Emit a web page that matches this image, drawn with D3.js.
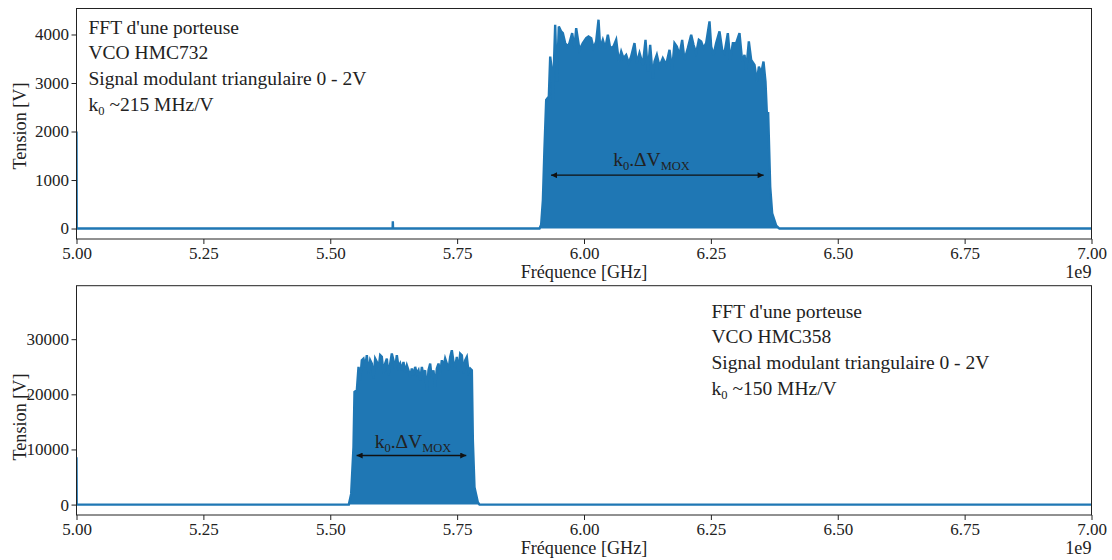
<!DOCTYPE html>
<html>
  <head>
    <meta charset="utf-8">
    <title>FFT d'une porteuse</title>
    <script src="https://d3js.org/d3.v7.min.js"></script>
    <style>
      body { margin: 0; background: #fff; }
      svg text { font-family: "Liberation Serif", "DejaVu Serif", serif; fill: #222; }
      .axis path, .axis line { stroke: #222; }
      .axis text { font-size: 17px; }
      .label { font-size: 18.2px; }
      .note { font-size: 19.5px; }
    </style>
  </head>
  <body>
    <svg id="chart" width="1112" height="560"></svg>
    <script>
      // tick values
      const xTicks = [5.00, 5.25, 5.50, 5.75, 6.00, 6.25, 6.50, 6.75, 7.00];
      const yTicksTop = [0, 1000, 2000, 3000, 4000];
      const yTicksBot = [0, 10000, 20000, 30000];
      const yLimTop = [-216, 4536];
      const yLimBot = [-1890, 39700];

      // HMC732 spectrum (GHz, V)
      const freqTop = [5.0000, 5.0004, 5.6229, 5.6233, 5.6237, 5.9123, 5.9156, 5.9190, 5.9220, 5.9255,
        5.9307, 5.9334, 5.9366, 5.9386, 5.9432, 5.9465, 5.9504, 5.9550, 5.9583, 5.9629,
        5.9682, 5.9714, 5.9767, 5.9813, 5.9846, 5.9911, 5.9977, 6.0043, 6.0089, 6.0142,
        6.0187, 6.0240, 6.0286, 6.0319, 6.0371, 6.0418, 6.0470, 6.0516, 6.0581, 6.0634,
        6.0686, 6.0733, 6.0778, 6.0831, 6.0883, 6.0929, 6.0995, 6.1041, 6.1094, 6.1160,
        6.1212, 6.1258, 6.1304, 6.1357, 6.1389, 6.1435, 6.1488, 6.1553, 6.1619, 6.1685,
        6.1737, 6.1783, 6.1829, 6.1882, 6.1934, 6.1980, 6.2046, 6.2112, 6.2158, 6.2210,
        6.2263, 6.2309, 6.2355, 6.2407, 6.2473, 6.2506, 6.2552, 6.2604, 6.2670, 6.2723,
        6.2768, 6.2834, 6.2880, 6.2933, 6.2998, 6.3064, 6.3117, 6.3163, 6.3196, 6.3248,
        6.3294, 6.3360, 6.3406, 6.3446, 6.3492, 6.3537, 6.3576, 6.3603, 6.3629, 6.3669,
        6.3708, 6.3787, 6.3850, 7.0000];
      const voltTop = [2000, 0, 0, 150, 0, 0, 80, 585, 1618, 2651,
        2720, 3546, 3271, 2651, 4200, 3029, 4166, 4063, 4029, 3822,
        3753, 3822, 4029, 3719, 4132, 3684, 3822, 3925, 3959, 3925,
        3719, 3856, 4304, 3719, 3890, 3719, 3994, 3719, 3753, 3890,
        3443, 3650, 3511, 3580, 3409, 3546, 3822, 3409, 3616, 3374,
        3890, 3236, 3787, 3097, 3443, 3580, 3339, 3511, 3374, 3684,
        3271, 3822, 3753, 3580, 3890, 3477, 3719, 3994, 3787, 3616,
        3890, 3856, 3719, 3822, 4269, 3753, 3580, 3822, 4063, 3684,
        3616, 4029, 3477, 3822, 3822, 4029, 3443, 3580, 3271, 3856,
        3477, 3374, 3029, 3339, 3202, 3443, 3029, 2376, 2376, 860,
        310, 60, 0, 0];

      // HMC358 spectrum (GHz, V)
      const freqBot = [5.0000, 5.0004, 5.5366, 5.5412, 5.5458, 5.5478, 5.5524, 5.5557, 5.5590, 5.5622,
        5.5655, 5.5688, 5.5721, 5.5754, 5.5787, 5.5819, 5.5852, 5.5885, 5.5918, 5.5951,
        5.5984, 5.6016, 5.6049, 5.6082, 5.6115, 5.6148, 5.6181, 5.6213, 5.6246, 5.6279,
        5.6312, 5.6345, 5.6378, 5.6410, 5.6443, 5.6476, 5.6509, 5.6542, 5.6575, 5.6607,
        5.6640, 5.6673, 5.6706, 5.6739, 5.6772, 5.6805, 5.6837, 5.6870, 5.6903, 5.6936,
        5.6969, 5.7002, 5.7034, 5.7067, 5.7100, 5.7133, 5.7166, 5.7199, 5.7232, 5.7264,
        5.7297, 5.7330, 5.7363, 5.7396, 5.7429, 5.7461, 5.7494, 5.7527, 5.7560, 5.7593,
        5.7626, 5.7658, 5.7691, 5.7724, 5.7757, 5.7790, 5.7810, 5.7842, 5.7908, 5.7941,
        7.0000];
      const voltBot = [8600, 0, 0, 1939, 10424, 20424, 20727, 24970, 22545, 26182,
        26485, 24970, 27091, 23758, 26182, 25576, 22848, 26485, 25879, 24667,
        27091, 26788, 23758, 25576, 26485, 23455, 25576, 27394, 26182, 24667,
        27091, 24970, 25576, 24364, 25879, 24061, 25273, 24364, 23152, 24667,
        23455, 24970, 23758, 24364, 22545, 24970, 23455, 24364, 20424, 24364,
        25576, 22848, 24364, 21333, 24667, 25576, 23758, 26182, 24970, 26485,
        25576, 24364, 26788, 28000, 25879, 24970, 26788, 24061, 27394, 27091,
        23758, 26182, 26788, 24061, 24667, 24364, 11636, 3152, 424, 0,
        0];

      // annotations
      const notesTop = ["FFT d'une porteuse", "VCO HMC732", "Signal modulant triangulaire 0 - 2V", "~215 MHz/V"];
      const notesBot = ["FFT d'une porteuse", "VCO HMC358", "Signal modulant triangulaire 0 - 2V", "~150 MHz/V"];
      const spanTop = { from: 5.935, to: 6.354, v: 1100, labelF: 6.133, labelV: 1290 };
      const spanBot = { from: 5.552, to: 5.768, v: 8900, labelF: 5.663, labelV: 10300 };

      const color = "#1f77b4";
      const svg = d3.select("#chart");
      const margin = { left: 76.5, right: 1091.5 };

      // arrow heads
      const defs = svg.append("defs");
      defs.append("marker")
          .attr("id", "head")
          .attr("viewBox", "0 0 10 10")
          .attr("refX", 10)
          .attr("refY", 5)
          .attr("markerWidth", 7)
          .attr("markerHeight", 6)
          .attr("markerUnits", "userSpaceOnUse")
          .attr("orient", "auto-start-reverse")
        .append("path")
          .attr("d", "M0,0 L10,5 L0,10 z")
          .attr("fill", "#111");

      function panel(id, top, bottom, freq, volt, yLim, yTicks, notes, noteX, noteY, span, ylabelY) {
        const x = d3.scaleLinear().domain([5, 7]).range([margin.left, margin.right]);
        const y = d3.scaleLinear().domain(yLim).range([bottom, top]);
        const data = freq.map(function(f, i) { return { f: f, v: volt[i] }; });

        defs.append("clipPath").attr("id", "clip" + id)
          .append("rect")
            .attr("x", margin.left).attr("y", top)
            .attr("width", margin.right - margin.left).attr("height", bottom - top);

        const g = svg.append("g");
        const plot = g.append("g").attr("clip-path", "url(#clip" + id + ")");

        plot.append("path")
          .datum(data)
          .attr("fill", color)
          .attr("d", d3.area()
            .x(function(d) { return x(d.f); })
            .y0(y(0))
            .y1(function(d) { return y(d.v); }));
        plot.append("path")
          .datum(data)
          .attr("fill", "none")
          .attr("stroke", color)
          .attr("stroke-width", 2.4)
          .attr("stroke-linejoin", "miter")
          .attr("d", d3.line()
            .x(function(d) { return x(d.f); })
            .y(function(d) { return y(d.v); }));

        // axes
        const xAxis = d3.axisBottom(x)
          .tickValues(xTicks)
          .tickFormat(d3.format(".2f"))
          .tickSizeInner(5)
          .tickSizeOuter(0)
          .tickPadding(2.5);
        const yAxis = d3.axisLeft(y)
          .tickValues(yTicks)
          .tickFormat(d3.format("d"))
          .tickSizeInner(5)
          .tickSizeOuter(0)
          .tickPadding(2.5);
        g.append("g").attr("class", "axis")
          .attr("transform", "translate(0," + bottom + ")")
          .call(xAxis);
        g.append("g").attr("class", "axis")
          .attr("transform", "translate(" + margin.left + ",0)")
          .call(yAxis);
        g.selectAll(".axis .domain").remove();

        // frame
        g.append("rect")
          .attr("x", margin.left).attr("y", top)
          .attr("width", margin.right - margin.left).attr("height", bottom - top)
          .attr("fill", "none")
          .attr("stroke", "#222")
          .attr("stroke-width", 1);

        // labels
        g.append("text").attr("class", "label")
          .attr("x", (margin.left + margin.right) / 2)
          .attr("y", bottom + 39)
          .attr("text-anchor", "middle")
          .text("Fréquence [GHz]");
        g.append("text").attr("class", "label")
          .attr("x", margin.right)
          .attr("y", bottom + 39)
          .attr("text-anchor", "end")
          .text("1e9");
        g.append("text").attr("class", "label")
          .attr("transform", "translate(26," + ylabelY + ") rotate(-90)")
          .attr("text-anchor", "middle")
          .text("Tension [V]");

        // text box
        notes.forEach(function(t, i) {
          const txt = g.append("text").attr("class", "note")
            .attr("x", noteX)
            .attr("y", noteY + i * 25.7);
          if (i === notes.length - 1) {
            txt.append("tspan").text("k");
            txt.append("tspan").attr("font-size", "12.5px").attr("dy", 4).text("0");
            txt.append("tspan").attr("dy", -4).text(" " + t);
          } else {
            txt.text(t);
          }
        });

        // span arrow
        g.append("line")
          .attr("x1", x(span.from)).attr("x2", x(span.to))
          .attr("y1", y(span.v)).attr("y2", y(span.v))
          .attr("stroke", "#111")
          .attr("stroke-width", 1.3)
          .attr("marker-start", "url(#head)")
          .attr("marker-end", "url(#head)");
        const lab = g.append("text").attr("class", "note")
          .attr("x", x(span.labelF))
          .attr("y", y(span.labelV))
          .attr("text-anchor", "middle");
        lab.append("tspan").text("k");
        lab.append("tspan").attr("font-size", "12.5px").attr("dy", 4).text("0");
        lab.append("tspan").attr("dy", -4).text(".ΔV");
        lab.append("tspan").attr("font-size", "12.5px").attr("dy", 4).text("MOX");
      }

      panel("Top", 8.5, 239, freqTop, voltTop, yLimTop, yTicksTop, notesTop, 88.5, 33.5, spanTop, 126);
      panel("Bot", 285.7, 515, freqBot, voltBot, yLimBot, yTicksBot, notesBot, 711.5, 317.5, spanBot, 417);
    </script>
  </body>
</html>
